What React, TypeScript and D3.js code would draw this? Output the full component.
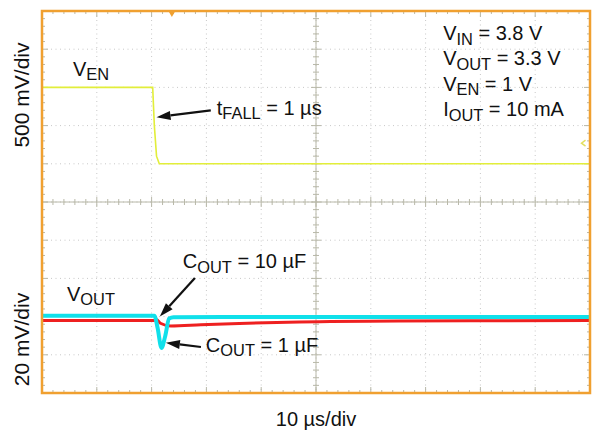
import * as d3 from 'd3';

// time axis in µs, 10 µs/div
const timeDomain = [0, 100];
// EN channel in volts (500 mV/div), OUT channel in mV deviation (20 mV/div)
const enDomain = [-3, 2];
const outDomain = [-40, 160];

const enTime = [0, 20.2, 20.5, 20.9, 21.4, 100];
const enVolts = [1.0, 1.0, 0.5, 0.1, 0.0, 0.0];

const cyanTime = [0, 20.5, 21.1, 21.8, 22.5, 23.2, 24, 40, 100];
const cyanMv = [0.5, 0.5, -6, -16.4, -10, -1, -0.3, -0.2, -0.2];

const redTime = [0, 20.4, 20.9, 21.6, 23.5, 29, 36, 47, 65, 100];
const redMv = [-2, -2, -1.5, -3.5, -4.9, -4.3, -3.6, -2.8, -2.3, -2.1];

const conditions = [
  { main: 'V', sub: 'IN', rest: ' = 3.8 V' },
  { main: 'V', sub: 'OUT', rest: ' = 3.3 V' },
  { main: 'V', sub: 'EN', rest: ' = 1 V' },
  { main: 'I', sub: 'OUT', rest: ' = 10 mA' },
];
const conditionLevels = [1.62, 1.29, 0.953, 0.62];

const W = 592;
const H = 432;
const frame = { left: 42, right: 590, top: 11, bottom: 393 };
const ORANGE = '#f0a030';
const FONT = '"Liberation Sans", Arial, sans-serif';

function Label({ x, y, main, sub, rest, size = 20 }: { x: number; y: number; main: string; sub: string; rest?: string; size?: number }) {
  return (
    <text x={x} y={y} fontSize={size} fontFamily={FONT} fill="#111">
      <tspan>{main}</tspan>
      <tspan fontSize={size * 0.82} dy={4.5}>{sub}</tspan>
      {rest ? <tspan dy={-4.5}>{rest}</tspan> : null}
    </text>
  );
}

function Arrow({ x1, y1, x2, y2 }: { x1: number; y1: number; x2: number; y2: number }) {
  const ang = Math.atan2(y2 - y1, x2 - x1);
  const len = 14;
  const hw = 4.5;
  const bx = x2 - len * Math.cos(ang);
  const by = y2 - len * Math.sin(ang);
  const px = -Math.sin(ang) * hw;
  const py = Math.cos(ang) * hw;
  return (
    <g>
      <line x1={x1} y1={y1} x2={bx} y2={by} stroke="#111" strokeWidth={2.2} />
      <polygon points={`${x2},${y2} ${bx + px},${by + py} ${bx - px},${by - py}`} fill="#111" />
    </g>
  );
}

export default function App() {
  const x = d3.scaleLinear().domain(timeDomain).range([frame.left, frame.right]);
  const yEn = d3.scaleLinear().domain(enDomain).range([frame.bottom, frame.top]);
  const yOut = d3.scaleLinear().domain(outDomain).range([frame.bottom, frame.top]);
  const yDiv = d3.scaleLinear().domain([-5, 5]).range([frame.bottom, frame.top]);

  const enLine = d3.line<number>().x((d, i) => x(enTime[i])).y((d) => yEn(d));
  const cyanLine = d3.line<number>().x((d, i) => x(cyanTime[i])).y((d) => yOut(d)).curve(d3.curveMonotoneX);
  const redLine = d3.line<number>().x((d, i) => x(redTime[i])).y((d) => yOut(d)).curve(d3.curveMonotoneX);

  const majorX = d3.range(10, 100, 10);
  const majorY = d3.range(-4, 5, 1);
  const minorX = d3.range(0, 100.01, 2);
  const minorY = d3.range(-5, 5.01, 0.2);
  const cx = x(50);
  const cy = yDiv(0);
  const isMajorX = (t: number) => Math.abs(t / 10 - Math.round(t / 10)) < 1e-6;
  const isMajorY = (v: number) => Math.abs(v - Math.round(v)) < 1e-6;

  return (
    <svg width={W} height={H} style={{ position: 'absolute', left: 0, top: 0, background: '#fff' }}>
      {/* dotted grid */}
      <g stroke="#c8c8c8" strokeWidth={1} strokeDasharray="1 3.5">
        {majorX.map((t) => (
          <line key={'gx' + t} x1={x(t)} x2={x(t)} y1={frame.top} y2={frame.bottom} />
        ))}
        {majorY.map((v) => (
          <line key={'gy' + v} x1={frame.left} x2={frame.right} y1={yDiv(v)} y2={yDiv(v)} />
        ))}
      </g>

      {/* center axes with ticks */}
      <g stroke="#b8b8a8" strokeWidth={1}>
        <line x1={frame.left} x2={frame.right} y1={cy} y2={cy} />
        <line x1={cx} x2={cx} y1={frame.top} y2={frame.bottom} />
        {minorX.map((t) => {
          const l = isMajorX(t) ? 5 : 3;
          return <line key={'cx' + t} x1={x(t)} x2={x(t)} y1={cy - l} y2={cy + l} />;
        })}
        {minorY.map((v) => {
          const l = isMajorY(v) ? 5 : 3;
          return <line key={'cy' + v} x1={cx - l} x2={cx + l} y1={yDiv(v)} y2={yDiv(v)} />;
        })}
        {/* frame ticks */}
        {minorX.map((t) => {
          const l = isMajorX(t) ? 6 : 3;
          return (
            <g key={'fx' + t}>
              <line x1={x(t)} x2={x(t)} y1={frame.top} y2={frame.top + l} />
              <line x1={x(t)} x2={x(t)} y1={frame.bottom} y2={frame.bottom - l} />
            </g>
          );
        })}
        {minorY.map((v) => {
          const l = isMajorY(v) ? 6 : 3;
          return (
            <g key={'fy' + v}>
              <line x1={frame.left} x2={frame.left + l} y1={yDiv(v)} y2={yDiv(v)} />
              <line x1={frame.right} x2={frame.right - l} y1={yDiv(v)} y2={yDiv(v)} />
            </g>
          );
        })}
      </g>

      {/* traces */}
      <path d={enLine(enVolts) ?? ''} fill="none" stroke="#e2ee3a" strokeWidth={1.6} />
      <path d={redLine(redMv) ?? ''} fill="none" stroke="#ee2020" strokeWidth={3} />
      <path d={cyanLine(cyanMv) ?? ''} fill="none" stroke="#10e0ea" strokeWidth={4} />

      {/* frame */}
      <rect
        x={frame.left}
        y={frame.top}
        width={frame.right - frame.left}
        height={frame.bottom - frame.top}
        fill="none"
        stroke={ORANGE}
        strokeWidth={2.5}
      />
      {/* trigger markers */}
      <polygon
        points={`${x(23.7) - 3.5},${frame.top} ${x(23.7) + 3.5},${frame.top} ${x(23.7)},${frame.top + 6}`}
        fill={ORANGE}
      />
      <polyline
        points={`${x(99) + 1},${yEn(0.27) - 3} ${x(99) - 3},${yEn(0.27)} ${x(99) + 1},${yEn(0.27) + 3}`}
        fill="none"
        stroke="#e2e060"
        strokeWidth={1.5}
      />

      {/* annotations */}
      <Label x={x(5.66)} y={yEn(1.15)} main="V" sub="EN" />
      <Label x={x(31.9)} y={yEn(0.64)} main="t" sub="FALL" rest=" = 1 µs" />
      <Arrow x1={x(30.8)} y1={yEn(0.7)} x2={x(20.9)} y2={yEn(0.61)} />
      {conditions.map((c, i) => (
        <Label key={i} x={x(73.2)} y={yEn(conditionLevels[i])} main={c.main} sub={c.sub} rest={c.rest} />
      ))}

      <Label x={x(4.56)} y={yOut(8.4)} main="V" sub="OUT" />
      <Label x={x(25.7)} y={yOut(25.3)} main="C" sub="OUT" rest=" = 10 µF" />
      <Arrow x1={x(27.9)} y1={yOut(20.2)} x2={x(21.5)} y2={yOut(0.05)} />
      <Label x={x(29.9)} y={yOut(-18.4)} main="C" sub="OUT" rest=" = 1 µF" />
      <Arrow x1={x(29.0)} y1={yOut(-15.9)} x2={x(22.6)} y2={yOut(-13.7)} />

      {/* axis labels */}
      <text
        transform={`translate(29,${yDiv(2.8)}) rotate(-90)`}
        textAnchor="middle"
        fontSize={21}
        fontFamily={FONT}
        fill="#111"
      >
        500 mV/div
      </text>
      <text
        transform={`translate(29,${yDiv(-3.6)}) rotate(-90)`}
        textAnchor="middle"
        fontSize={21}
        fontFamily={FONT}
        fill="#111"
      >
        20 mV/div
      </text>
      <text x={x(50)} y={426} textAnchor="middle" fontSize={20} fontFamily={FONT} fill="#111">
        10 µs/div
      </text>
    </svg>
  );
}
